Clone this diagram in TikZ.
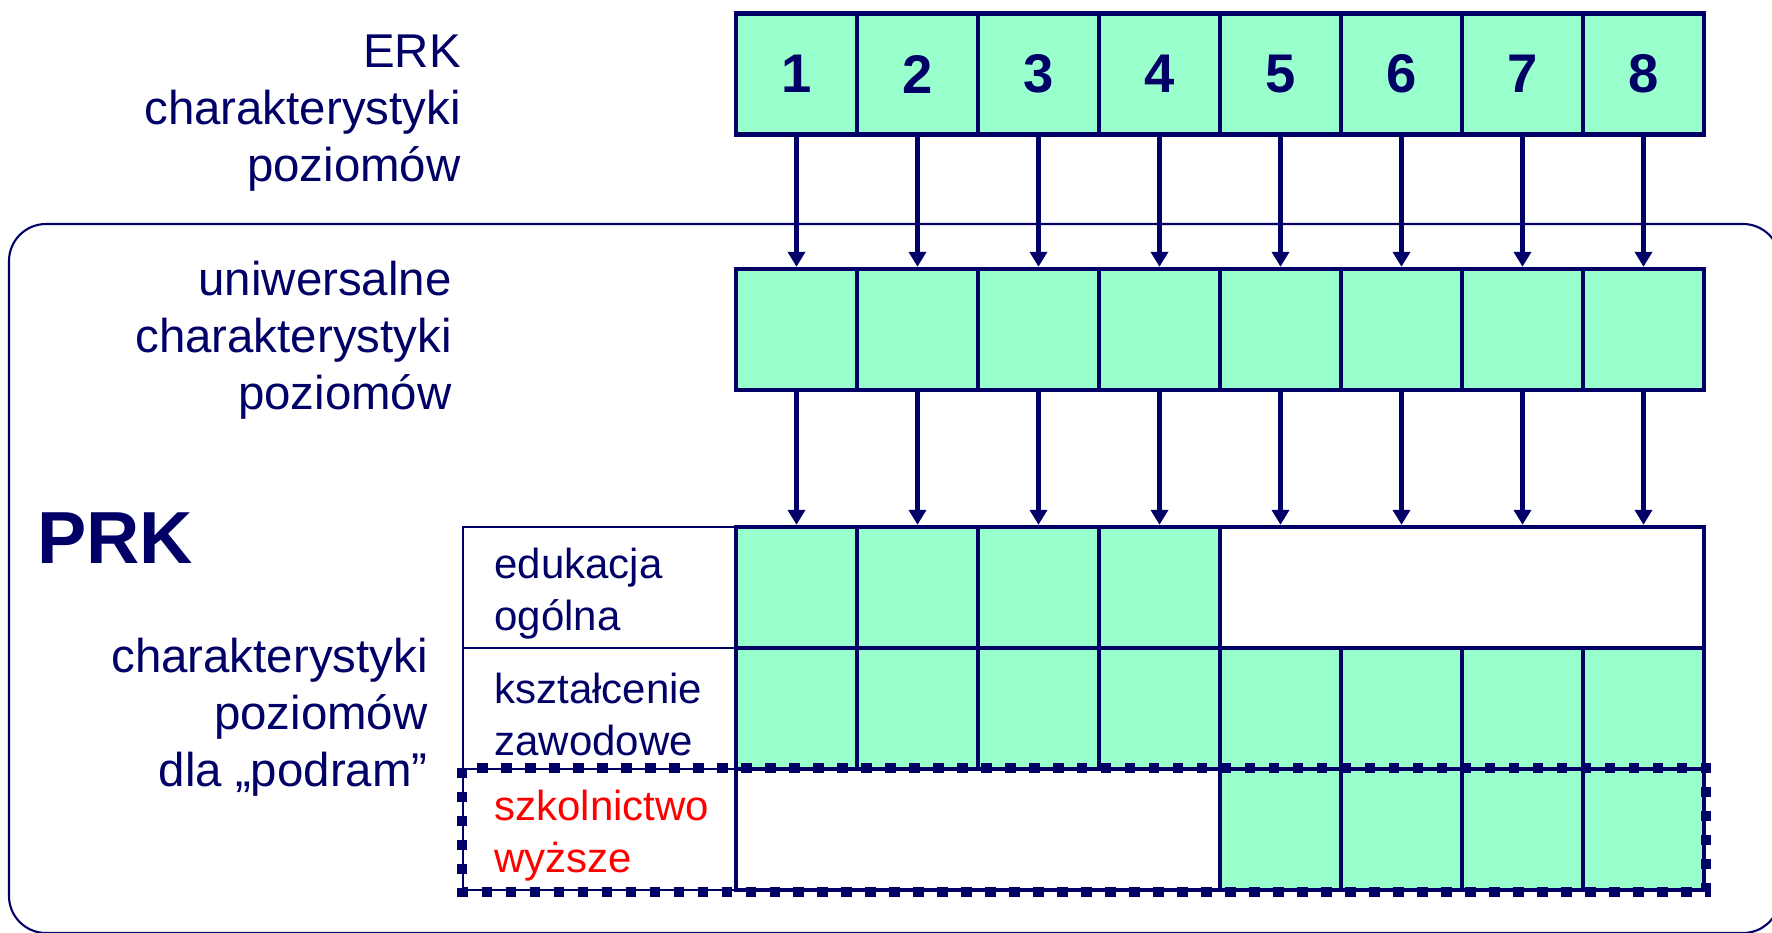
\documentclass[tikz,border=0pt]{standalone}
\usepackage{fontspec}
\setmainfont{Liberation Sans}
\usetikzlibrary{arrows.meta}

\definecolor{navy}{RGB}{0,0,102}
\definecolor{mint}{RGB}{153,255,204}

\tikzset{
	cell/.style = {draw=navy, fill=mint, line width=2.5pt, minimum size=2.42cm, inner sep=0pt},
	blank/.style = {draw=navy, fill=white, line width=2.5pt, minimum width=9.68cm, minimum height=2.42cm, inner sep=0pt},
	rowlabel/.style = {draw=navy, line width=1.3pt, minimum width=5.46cm, minimum height=2.42cm, text width=4.2cm, inner xsep=0.63cm, align=left, text=navy, font=\fontsize{23.9pt}{30pt}\selectfont, execute at begin node={\rule{0pt}{0.85cm}}},
	side/.style = {align=right, inner sep=0pt, text=navy, font=\fontsize{27pt}{32.4pt}\selectfont},
	arr/.style = {draw=navy, line width=2.3pt, -{Triangle[length=0.3cm,width=0.34cm]}},
	dashbox/.style = {draw=navy, line width=6pt, dash pattern=on 0.21cm off 0.27cm},
}

\begin{document}
\begin{tikzpicture}[x=0.02cm, y=-0.02cm]
			\useasboundingbox (0,0) rectangle (1772,933);
			\draw[navy, line width=1.2pt, rounded corners=0.74cm] (9,224) rectangle (1780,933);

			\node[side, anchor=east] (erk) at (461,113) {ERK\\charakterystyki\\poziomów};
			\node[side, anchor=east] (uni) at (452,340) {uniwersalne\\charakterystyki\\poziomów};
			\node[side, anchor=east] (podram) at (428,717) {charakterystyki\\poziomów\\dla „podram”};
			\node[text=navy, anchor=base west, inner sep=0pt, font=\fontsize{42pt}{42pt}\selectfont\bfseries] (prk) at (37,563) {PRK};

			\node[rowlabel] (la) at (599.5,587.5) {edukacja\\ogólna};
			\node[rowlabel] (lb) at (599.5,708.5) {kształcenie\\zawodowe};
			\node[rowlabel, text=red] (lc) at (599.5,829.5) {szkolnictwo\\wyższe};

			\foreach \i in {1,...,8} {
				\node[cell, text=navy, font=\fontsize{31pt}{31pt}\selectfont\bfseries] (e\i) at ({675.5+121*\i},74) {\i};
				\node[cell] (u\i) at ({675.5+121*\i},329.5) {};
				\node[cell] (b\i) at ({675.5+121*\i},708.5) {};
			}
			\foreach \i in {1,...,4}
				\node[cell] (a\i) at ({675.5+121*\i},587.5) {};
			\foreach \i in {5,...,8}
				\node[cell] (c\i) at ({675.5+121*\i},829.5) {};
			\node[blank] (a58) at (1462,587.5) {};
			\node[blank] (c14) at (978,829.5) {};

			\foreach \i in {1,...,8}
				\draw[arr] (e\i) -- (u\i);
			\foreach \i in {1,...,4}
				\draw[arr] (u\i) -- (a\i);
			\foreach \i in {5,...,8}
				\draw[arr] (u\i) -- (u\i |- a58.north);

			\draw[dashbox] (lc.north west) rectangle (c8.south east);
		\end{tikzpicture}
\end{document}
